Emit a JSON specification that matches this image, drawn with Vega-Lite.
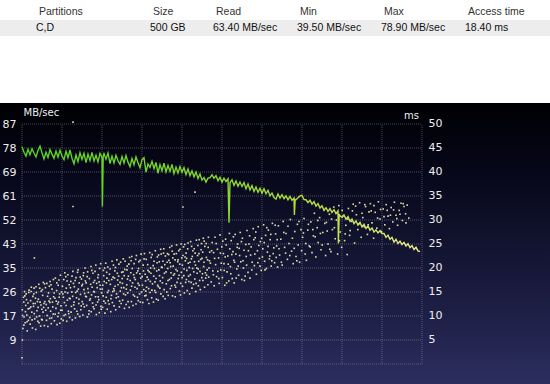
{
"$schema": "https://vega.github.io/schema/vega-lite/v6.json",
"padding": 0,
"spacing": 0,
"bounds": "flush",
"background": "#ffffff",
"config": {"view": {"stroke": null}, "axis": {"labelFont": "DejaVu Sans", "titleFont": "DejaVu Sans"}},
"datasets": {
"table": [
{"col":0,"row":"h","text":"Partitions"},{"col":1,"row":"h","text":"Size"},{"col":2,"row":"h","text":"Read"},{"col":3,"row":"h","text":"Min"},{"col":4,"row":"h","text":"Max"},{"col":5,"row":"h","text":"Access time"},
{"col":0,"row":"v","text":"C,D"},{"col":1,"row":"v","text":"500 GB"},{"col":2,"row":"v","text":"63.40 MB/sec"},{"col":3,"row":"v","text":"39.50 MB/sec"},{"col":4,"row":"v","text":"78.90 MB/sec"},{"col":5,"row":"v","text":"18.40 ms"}
],
"gv": [{"p":0},{"p":10},{"p":20},{"p":30},{"p":40},{"p":50},{"p":60},{"p":70},{"p":80},{"p":90},{"p":100}],
"gh": [{"t":0},{"t":5},{"t":10},{"t":15},{"t":20},{"t":25},{"t":30},{"t":35},{"t":40},{"t":45},{"t":50}],
"read": [
{"p":0,"mb":78.6},{"p":0.5,"mb":76.6},{"p":1,"mb":75.2},{"p":1.5,"mb":77.6},{"p":2,"mb":75.7},{"p":2.5,"mb":77.8},{"p":3,"mb":76.3},{"p":3.5,"mb":74.9},{"p":4,"mb":77.2},{"p":4.5,"mb":78.8},
{"p":5,"mb":76.4},{"p":5.5,"mb":74.2},{"p":6,"mb":76.6},{"p":6.5,"mb":74.7},{"p":7,"mb":77.5},{"p":7.5,"mb":75.9},{"p":8,"mb":74.4},{"p":8.5,"mb":77.0},{"p":9,"mb":74.8},{"p":9.5,"mb":77.3},
{"p":10,"mb":75.2},{"p":10.5,"mb":73.9},{"p":11,"mb":76.9},{"p":11.5,"mb":74.6},{"p":12,"mb":77.4},{"p":12.5,"mb":74.4},{"p":13,"mb":72.4},{"p":13.5,"mb":75.6},{"p":14,"mb":73.2},{"p":14.5,"mb":76.4},
{"p":15,"mb":74.0},{"p":15.5,"mb":76.2},{"p":16,"mb":72.8},{"p":16.5,"mb":75.9},{"p":17,"mb":73.6},{"p":17.5,"mb":76.5},{"p":18,"mb":73.4},{"p":18.5,"mb":75.5},{"p":19,"mb":73.1},{"p":19.5,"mb":76.2},
{"p":20,"mb":74.6},{"p":20.1,"mb":57.0},{"p":20.3,"mb":75.2},{"p":20.5,"mb":76.1},{"p":21,"mb":74.1},{"p":21.5,"mb":76.3},{"p":22,"mb":72.5},{"p":22.5,"mb":75.1},{"p":23,"mb":72.7},{"p":23.5,"mb":75.5},{"p":24,"mb":73.5},{"p":24.5,"mb":72.2},
{"p":25,"mb":75.0},{"p":25.5,"mb":72.7},{"p":26,"mb":75.4},{"p":26.5,"mb":73.0},{"p":27,"mb":71.4},{"p":27.5,"mb":74.3},{"p":28,"mb":72.1},{"p":28.5,"mb":74.9},{"p":29,"mb":72.8},{"p":29.5,"mb":71.0},
{"p":30,"mb":73.9},{"p":30.5,"mb":74.6},{"p":31,"mb":69.4},{"p":31.5,"mb":72.3},{"p":32,"mb":71.1},{"p":32.5,"mb":73.3},{"p":33,"mb":70.7},{"p":33.5,"mb":72.9},{"p":34,"mb":69.0},{"p":34.5,"mb":72.1},
{"p":35,"mb":69.9},{"p":35.5,"mb":72.6},{"p":36,"mb":69.5},{"p":36.5,"mb":71.8},{"p":37,"mb":69.7},{"p":37.5,"mb":72.2},{"p":38,"mb":68.9},{"p":38.5,"mb":71.2},{"p":39,"mb":69.1},{"p":39.5,"mb":71.4},
{"p":40,"mb":69.3},{"p":40.5,"mb":71.0},{"p":41,"mb":68.5},{"p":41.5,"mb":70.5},{"p":42,"mb":68.1},{"p":42.5,"mb":69.8},{"p":43,"mb":67.7},{"p":43.5,"mb":69.4},{"p":44,"mb":67.1},{"p":44.5,"mb":68.7},
{"p":45,"mb":66.5},{"p":45.5,"mb":67.4},{"p":46,"mb":65.8},{"p":46.5,"mb":67.2},{"p":47,"mb":67.4},{"p":47.5,"mb":68.4},{"p":48,"mb":67.2},{"p":48.5,"mb":68.1},{"p":49,"mb":66.3},{"p":49.5,"mb":67.5},
{"p":50,"mb":65.8},{"p":50.5,"mb":67.2},{"p":51,"mb":66.0},{"p":51.5,"mb":67.0},{"p":51.75,"mb":51.1},{"p":52,"mb":65.6},{"p":52.5,"mb":66.6},{"p":53,"mb":64.6},{"p":53.5,"mb":66.2},{"p":54,"mb":64.3},{"p":54.5,"mb":65.8},
{"p":55,"mb":64.2},{"p":55.5,"mb":65.6},{"p":56,"mb":63.4},{"p":56.5,"mb":65.1},{"p":57,"mb":63.0},{"p":57.5,"mb":64.5},{"p":58,"mb":62.4},{"p":58.5,"mb":64.0},{"p":59,"mb":62.1},{"p":59.5,"mb":63.6},
{"p":60,"mb":61.8},{"p":60.5,"mb":63.4},{"p":61,"mb":61.6},{"p":61.5,"mb":62.8},{"p":62,"mb":60.8},{"p":62.5,"mb":61.8},{"p":63,"mb":60.2},{"p":63.5,"mb":59.6},{"p":64,"mb":61.5},{"p":64.5,"mb":60.0},
{"p":65,"mb":61.2},{"p":65.5,"mb":59.8},{"p":66,"mb":60.8},{"p":66.5,"mb":59.4},{"p":67,"mb":60.6},{"p":67.5,"mb":59.2},{"p":68,"mb":60.0},{"p":68.1,"mb":53.9},{"p":68.3,"mb":59.5},{"p":68.5,"mb":59.4},{"p":69,"mb":60.1},{"p":69.5,"mb":60.8},
{"p":70,"mb":61.0},{"p":70.5,"mb":59.5},{"p":71,"mb":59.4},{"p":71.5,"mb":58.4},{"p":72,"mb":59.2},{"p":72.5,"mb":57.8},{"p":73,"mb":58.7},{"p":73.5,"mb":57.1},{"p":74,"mb":58.0},{"p":74.5,"mb":56.4},
{"p":75,"mb":57.2},{"p":75.5,"mb":55.6},{"p":76,"mb":56.5},{"p":76.5,"mb":55.2},{"p":77,"mb":56.2},{"p":77.5,"mb":54.8},{"p":78,"mb":55.8},{"p":78.5,"mb":54.4},{"p":79,"mb":55.4},{"p":79.1,"mb":43.6},{"p":79.3,"mb":54.2},{"p":79.5,"mb":53.6},
{"p":80,"mb":53.0},{"p":80.5,"mb":53.9},{"p":81,"mb":52.4},{"p":81.5,"mb":53.3},{"p":82,"mb":51.6},{"p":82.5,"mb":52.4},{"p":83,"mb":50.8},{"p":83.5,"mb":51.8},{"p":84,"mb":50.2},{"p":84.5,"mb":51.2},
{"p":85,"mb":49.6},{"p":85.5,"mb":50.5},{"p":86,"mb":49.0},{"p":86.5,"mb":49.9},{"p":87,"mb":48.4},{"p":87.5,"mb":49.2},{"p":88,"mb":47.7},{"p":88.5,"mb":48.5},{"p":89,"mb":47.4},{"p":89.5,"mb":48.2},
{"p":90,"mb":47.2},{"p":90.5,"mb":47.2},{"p":91,"mb":45.8},{"p":91.5,"mb":46.6},{"p":92,"mb":45.1},{"p":92.5,"mb":45.8},{"p":93,"mb":44.1},{"p":93.5,"mb":45.1},{"p":94,"mb":43.6},{"p":94.5,"mb":44.4},
{"p":95,"mb":43.2},{"p":95.5,"mb":44.0},{"p":96,"mb":42.7},{"p":96.5,"mb":43.5},{"p":97,"mb":42.1},{"p":97.5,"mb":42.8},{"p":98,"mb":41.4},{"p":98.5,"mb":42.2},{"p":99,"mb":40.9},{"p":99.5,"mb":40.7}
],
"access": [
{"p":0.0,"t":1.3},{"p":0.1,"t":5.0},{"p":3.1,"t":22.1},{"p":12.75,"t":50.4},{"p":12.75,"t":32.8},{"p":40.25,"t":32.7},{"p":43.25,"t":35.8},
{"p":0.08,"t":11.3},{"p":0.22,"t":7.4},{"p":0.37,"t":13.9},{"p":0.51,"t":9.8},{"p":0.64,"t":15.1},{"p":0.79,"t":8.6},{"p":0.93,"t":12.2},
{"p":1.03,"t":14.6},{"p":1.19,"t":10.2},{"p":1.31,"t":6.9},{"p":1.48,"t":12.7},{"p":1.6,"t":9.1},{"p":1.77,"t":15.4},{"p":1.9,"t":11.6},
{"p":2.05,"t":8.3},{"p":2.14,"t":13.2},{"p":2.33,"t":16.0},{"p":2.45,"t":10.8},{"p":2.61,"t":7.5},{"p":2.72,"t":14.1},{"p":2.88,"t":12.0},
{"p":3.02,"t":15.8},{"p":3.18,"t":9.4},{"p":3.29,"t":12.6},{"p":3.44,"t":7.2},{"p":3.58,"t":14.9},{"p":3.73,"t":11.1},{"p":3.95,"t":8.9},
{"p":4.09,"t":13.5},{"p":4.2,"t":16.6},{"p":4.36,"t":10.0},{"p":4.52,"t":12.9},{"p":4.66,"t":7.9},{"p":4.81,"t":15.2},{"p":4.97,"t":11.4},
{"p":5.04,"t":9.2},{"p":5.17,"t":14.3},{"p":5.34,"t":17.0},{"p":5.41,"t":11.8},{"p":5.59,"t":8.0},{"p":5.7,"t":13.0},{"p":5.86,"t":15.9},
{"p":6.06,"t":12.4},{"p":6.21,"t":16.8},{"p":6.3,"t":10.1},{"p":6.47,"t":7.8},{"p":6.63,"t":14.8},{"p":6.75,"t":13.1},{"p":6.92,"t":9.5},
{"p":7.01,"t":17.2},{"p":7.15,"t":11.0},{"p":7.32,"t":8.4},{"p":7.5,"t":15.6},{"p":7.62,"t":12.9},{"p":7.8,"t":10.4},{"p":7.91,"t":14.0},
{"p":8.1,"t":9.0},{"p":8.23,"t":13.7},{"p":8.35,"t":17.9},{"p":8.49,"t":11.6},{"p":8.65,"t":15.3},{"p":8.76,"t":8.2},{"p":8.9,"t":12.5},
{"p":9.05,"t":16.4},{"p":9.16,"t":10.6},{"p":9.31,"t":13.9},{"p":9.46,"t":8.5},{"p":9.6,"t":18.5},{"p":9.74,"t":12.1},{"p":9.88,"t":15.0},
{"p":10.02,"t":11.2},{"p":10.2,"t":14.6},{"p":10.29,"t":9.1},{"p":10.43,"t":17.6},{"p":10.61,"t":12.8},{"p":10.7,"t":19.0},{"p":10.86,"t":10.3},
{"p":11.07,"t":15.8},{"p":11.18,"t":8.9},{"p":11.34,"t":13.3},{"p":11.47,"t":18.6},{"p":11.6,"t":11.0},{"p":11.79,"t":16.5},{"p":11.9,"t":9.7},
{"p":12.04,"t":13.6},{"p":12.2,"t":17.2},{"p":12.27,"t":10.8},{"p":12.45,"t":15.0},{"p":12.58,"t":9.2},{"p":12.73,"t":19.3},{"p":12.92,"t":12.3},
{"p":13.09,"t":16.1},{"p":13.14,"t":11.5},{"p":13.36,"t":9.6},{"p":13.5,"t":18.0},{"p":13.63,"t":13.8},{"p":13.8,"t":15.2},{"p":13.94,"t":10.4},
{"p":14.01,"t":19.6},{"p":14.19,"t":12.6},{"p":14.3,"t":16.9},{"p":14.44,"t":9.9},{"p":14.62,"t":14.5},{"p":14.71,"t":11.3},{"p":14.87,"t":17.7},
{"p":15.06,"t":13.0},{"p":15.21,"t":10.2},{"p":15.33,"t":18.4},{"p":15.49,"t":15.5},{"p":15.57,"t":11.9},{"p":15.76,"t":20.0},{"p":15.9,"t":14.1},
{"p":16.03,"t":16.9},{"p":16.16,"t":12.2},{"p":16.35,"t":9.8},{"p":16.41,"t":19.2},{"p":16.6,"t":14.9},{"p":16.77,"t":11.1},{"p":16.85,"t":17.8},
{"p":17.08,"t":13.6},{"p":17.24,"t":20.3},{"p":17.3,"t":10.9},{"p":17.52,"t":16.0},{"p":17.64,"t":12.7},{"p":17.73,"t":18.9},{"p":17.95,"t":15.1},
{"p":18.02,"t":11.5},{"p":18.17,"t":17.4},{"p":18.38,"t":14.0},{"p":18.45,"t":20.6},{"p":18.59,"t":10.3},{"p":18.8,"t":15.9},{"p":18.91,"t":12.9},
{"p":19.1,"t":18.6},{"p":19.2,"t":13.4},{"p":19.33,"t":10.7},{"p":19.5,"t":16.4},{"p":19.66,"t":20.9},{"p":19.72,"t":12.0},{"p":19.89,"t":14.8},
{"p":20.07,"t":15.6},{"p":20.15,"t":11.8},{"p":20.36,"t":19.5},{"p":20.48,"t":13.1},{"p":20.55,"t":17.2},{"p":20.74,"t":10.6},{"p":20.93,"t":21.0},
{"p":21.04,"t":13.9},{"p":21.22,"t":17.9},{"p":21.31,"t":11.4},{"p":21.46,"t":20.2},{"p":21.63,"t":15.3},{"p":21.78,"t":12.5},{"p":21.86,"t":18.7},
{"p":22.09,"t":16.6},{"p":22.18,"t":10.9},{"p":22.37,"t":14.3},{"p":22.52,"t":21.4},{"p":22.6,"t":12.8},{"p":22.77,"t":18.1},{"p":22.94,"t":15.7},
{"p":23.01,"t":12.1},{"p":23.2,"t":19.4},{"p":23.28,"t":16.2},{"p":23.43,"t":11.3},{"p":23.65,"t":14.6},{"p":23.71,"t":21.7},{"p":23.9,"t":17.5},
{"p":24.08,"t":14.0},{"p":24.23,"t":20.8},{"p":24.34,"t":11.9},{"p":24.51,"t":17.0},{"p":24.57,"t":15.2},{"p":24.79,"t":12.6},{"p":24.92,"t":19.1},
{"p":25.05,"t":17.8},{"p":25.16,"t":13.3},{"p":25.32,"t":21.9},{"p":25.47,"t":15.9},{"p":25.61,"t":11.6},{"p":25.7,"t":19.7},{"p":25.87,"t":14.4},
{"p":26.03,"t":12.4},{"p":26.19,"t":16.5},{"p":26.3,"t":20.4},{"p":26.44,"t":14.8},{"p":26.6,"t":18.3},{"p":26.8,"t":11.8},{"p":26.9,"t":22.2},
{"p":27.1,"t":15.4},{"p":27.21,"t":19.0},{"p":27.35,"t":13.0},{"p":27.46,"t":22.4},{"p":27.64,"t":16.9},{"p":27.75,"t":12.2},{"p":27.91,"t":18.6},
{"p":28.02,"t":20.9},{"p":28.16,"t":14.1},{"p":28.33,"t":17.6},{"p":28.5,"t":12.5},{"p":28.61,"t":22.6},{"p":28.78,"t":15.7},{"p":28.95,"t":19.4},
{"p":29.07,"t":13.2},{"p":29.2,"t":21.3},{"p":29.31,"t":16.4},{"p":29.48,"t":18.8},{"p":29.59,"t":12.9},{"p":29.76,"t":22.9},{"p":29.88,"t":15.0},
{"p":30.04,"t":18.2},{"p":30.21,"t":12.8},{"p":30.29,"t":20.6},{"p":30.45,"t":15.5},{"p":30.62,"t":23.0},{"p":30.7,"t":14.2},{"p":30.89,"t":17.3},
{"p":31.06,"t":21.8},{"p":31.15,"t":16.0},{"p":31.37,"t":13.4},{"p":31.49,"t":19.5},{"p":31.58,"t":17.6},{"p":31.74,"t":12.6},{"p":31.93,"t":23.2},
{"p":32.01,"t":14.9},{"p":32.22,"t":18.9},{"p":32.3,"t":22.2},{"p":32.42,"t":13.8},{"p":32.63,"t":16.7},{"p":32.79,"t":20.5},{"p":32.86,"t":12.9},
{"p":33.09,"t":19.9},{"p":33.18,"t":15.3},{"p":33.33,"t":23.6},{"p":33.52,"t":17.8},{"p":33.6,"t":13.5},{"p":33.77,"t":21.1},{"p":33.92,"t":16.4},
{"p":34.05,"t":13.3},{"p":34.14,"t":22.7},{"p":34.38,"t":18.4},{"p":34.47,"t":15.8},{"p":34.66,"t":23.9},{"p":34.72,"t":14.6},{"p":34.89,"t":20.2},
{"p":35.1,"t":16.9},{"p":35.23,"t":21.4},{"p":35.29,"t":14.1},{"p":35.44,"t":24.0},{"p":35.61,"t":18.9},{"p":35.79,"t":13.6},{"p":35.85,"t":22.5},
{"p":36.02,"t":19.2},{"p":36.2,"t":15.0},{"p":36.36,"t":23.0},{"p":36.5,"t":17.4},{"p":36.56,"t":14.3},{"p":36.73,"t":21.6},{"p":36.94,"t":24.3},
{"p":37.08,"t":15.7},{"p":37.17,"t":20.3},{"p":37.32,"t":17.9},{"p":37.45,"t":24.6},{"p":37.63,"t":14.2},{"p":37.7,"t":22.1},{"p":37.87,"t":18.5},
{"p":38.03,"t":22.9},{"p":38.22,"t":16.4},{"p":38.31,"t":14.0},{"p":38.48,"t":19.7},{"p":38.64,"t":24.8},{"p":38.75,"t":17.0},{"p":38.93,"t":21.3},
{"p":39.06,"t":17.8},{"p":39.19,"t":23.6},{"p":39.35,"t":15.2},{"p":39.43,"t":20.8},{"p":39.62,"t":14.4},{"p":39.78,"t":25.0},{"p":39.84,"t":19.1},
{"p":40.09,"t":20.6},{"p":40.13,"t":16.2},{"p":40.38,"t":24.4},{"p":40.46,"t":18.4},{"p":40.59,"t":14.8},{"p":40.76,"t":22.3},{"p":40.91,"t":17.0},
{"p":41.02,"t":23.1},{"p":41.21,"t":19.5},{"p":41.3,"t":15.3},{"p":41.51,"t":25.2},{"p":41.57,"t":21.0},{"p":41.72,"t":17.2},{"p":41.9,"t":14.6},
{"p":42.07,"t":18.6},{"p":42.16,"t":25.5},{"p":42.34,"t":21.9},{"p":42.49,"t":15.8},{"p":42.65,"t":19.9},{"p":42.71,"t":23.6},{"p":42.88,"t":16.6},
{"p":43.04,"t":24.0},{"p":43.2,"t":17.7},{"p":43.37,"t":20.6},{"p":43.44,"t":15.1},{"p":43.61,"t":25.8},{"p":43.79,"t":18.9},{"p":43.9,"t":22.6},
{"p":44.1,"t":16.3},{"p":44.18,"t":21.4},{"p":44.3,"t":25.9},{"p":44.5,"t":19.3},{"p":44.58,"t":15.5},{"p":44.77,"t":23.8},{"p":44.95,"t":18.0},
{"p":45.01,"t":22.0},{"p":45.23,"t":17.4},{"p":45.32,"t":26.2},{"p":45.41,"t":20.3},{"p":45.64,"t":16.0},{"p":45.7,"t":24.5},{"p":45.86,"t":19.0},
{"p":46.05,"t":25.1},{"p":46.15,"t":18.5},{"p":46.39,"t":21.7},{"p":46.48,"t":16.5},{"p":46.6,"t":26.4},{"p":46.74,"t":20.0},{"p":46.92,"t":23.3},
{"p":47.1,"t":21.0},{"p":47.3,"t":17.1},{"p":47.55,"t":25.3},{"p":47.7,"t":19.4},{"p":47.9,"t":23.2},
{"p":48.05,"t":16.3},{"p":48.25,"t":26.4},{"p":48.4,"t":20.7},{"p":48.65,"t":18.2},{"p":48.85,"t":23.9},
{"p":49.15,"t":22.1},{"p":49.3,"t":16.8},{"p":49.5,"t":26.9},{"p":49.7,"t":19.6},{"p":49.95,"t":24.4},
{"p":50.1,"t":18.0},{"p":50.35,"t":23.0},{"p":50.5,"t":20.9},{"p":50.7,"t":16.4},{"p":50.9,"t":26.0},
{"p":51.05,"t":24.8},{"p":51.25,"t":19.2},{"p":51.45,"t":22.5},{"p":51.7,"t":17.3},{"p":51.85,"t":27.2},
{"p":52.1,"t":20.3},{"p":52.3,"t":25.7},{"p":52.55,"t":17.8},{"p":52.75,"t":23.4},{"p":52.95,"t":21.6},
{"p":53.05,"t":16.9},{"p":53.3,"t":27.0},{"p":53.45,"t":22.9},{"p":53.7,"t":19.8},{"p":53.9,"t":25.0},
{"p":54.15,"t":18.5},{"p":54.3,"t":24.1},{"p":54.55,"t":27.4},{"p":54.7,"t":21.3},{"p":54.95,"t":17.6},
{"p":55.1,"t":26.2},{"p":55.35,"t":20.0},{"p":55.5,"t":23.7},{"p":55.8,"t":18.3},
{"p":56.05,"t":22.4},{"p":56.25,"t":27.8},{"p":56.5,"t":19.1},{"p":56.75,"t":25.0},
{"p":57.0,"t":17.9},{"p":57.3,"t":24.4},{"p":57.55,"t":21.2},{"p":57.8,"t":28.2},
{"p":58.1,"t":20.5},{"p":58.3,"t":26.3},{"p":58.6,"t":18.7},{"p":58.85,"t":23.6},
{"p":59.05,"t":28.6},{"p":59.35,"t":22.0},{"p":59.6,"t":25.5},{"p":59.8,"t":19.5},
{"p":60.2,"t":24.0},{"p":60.4,"t":29.0},{"p":60.65,"t":21.4},{"p":60.9,"t":26.8},
{"p":61.1,"t":19.9},{"p":61.35,"t":23.3},{"p":61.6,"t":27.9},{"p":61.85,"t":21.9},
{"p":62.05,"t":25.9},{"p":62.3,"t":20.4},{"p":62.6,"t":29.3},{"p":62.8,"t":23.0},
{"p":63.15,"t":21.1},{"p":63.4,"t":27.1},{"p":63.65,"t":24.6},{"p":63.9,"t":20.2},
{"p":64.1,"t":28.8},{"p":64.4,"t":22.7},{"p":64.7,"t":26.0},
{"p":65.05,"t":20.6},{"p":65.3,"t":29.7},{"p":65.65,"t":24.3},
{"p":66.0,"t":27.2},{"p":66.35,"t":21.8},{"p":66.75,"t":25.1},
{"p":67.1,"t":30.1},{"p":67.4,"t":23.5},{"p":67.8,"t":20.9},
{"p":68.2,"t":27.6},{"p":68.5,"t":22.4},{"p":68.85,"t":29.1},
{"p":69.05,"t":24.8},{"p":69.4,"t":21.2},{"p":69.75,"t":28.0},
{"p":70.15,"t":26.4},{"p":70.5,"t":30.3},{"p":70.8,"t":22.9},
{"p":71.1,"t":21.6},{"p":71.45,"t":27.9},{"p":71.8,"t":24.6},
{"p":72.2,"t":29.6},{"p":72.5,"t":23.2},{"p":72.85,"t":26.7},
{"p":73.1,"t":31.4},{"p":73.45,"t":22.3},{"p":73.8,"t":28.4},
{"p":74.05,"t":25.3},{"p":74.4,"t":30.5},{"p":74.75,"t":23.8},
{"p":75.2,"t":27.4},{"p":75.55,"t":32.1},{"p":75.9,"t":22.6},
{"p":76.1,"t":29.5},{"p":76.5,"t":25.0},{"p":76.85,"t":31.2},
{"p":77.25,"t":23.4},{"p":77.6,"t":28.0},{"p":77.95,"t":32.7},
{"p":78.3,"t":26.1},{"p":78.6,"t":30.0},{"p":78.9,"t":22.9},
{"p":79.2,"t":33.0},{"p":79.55,"t":27.5},{"p":79.9,"t":24.3},
{"p":80.3,"t":30.9},{"p":80.65,"t":25.7},{"p":80.95,"t":28.9},
{"p":81.3,"t":22.8},{"p":81.6,"t":32.4},{"p":81.9,"t":26.8},
{"p":82.35,"t":29.7},{"p":82.8,"t":33.3},
{"p":83.15,"t":25.2},{"p":83.6,"t":31.1},{"p":83.95,"t":28.0},
{"p":84.4,"t":33.6},{"p":84.8,"t":26.4},
{"p":85.2,"t":30.5},{"p":85.55,"t":28.6},{"p":85.9,"t":32.8},
{"p":86.35,"t":27.0},{"p":86.75,"t":31.7},
{"p":87.1,"t":33.4},{"p":87.5,"t":29.4},{"p":87.9,"t":26.2},
{"p":88.3,"t":31.6},{"p":88.7,"t":28.3},
{"p":89.1,"t":33.8},{"p":89.5,"t":30.2},{"p":89.85,"t":27.6},
{"p":90.3,"t":32.3},{"p":90.7,"t":29.0},
{"p":91.05,"t":33.2},{"p":91.5,"t":30.8},{"p":91.85,"t":28.2},
{"p":92.3,"t":32.6},{"p":92.7,"t":29.6},
{"p":93.1,"t":33.7},{"p":93.5,"t":31.0},{"p":93.9,"t":28.9},
{"p":94.3,"t":32.0},{"p":94.75,"t":33.5},
{"p":95.1,"t":29.9},{"p":95.5,"t":32.8},{"p":95.9,"t":31.3},
{"p":96.3,"t":33.1},{"p":96.7,"t":30.4},
{"p":0.15,"t":10.1},{"p":0.44,"t":12.9},{"p":0.47,"t":8.1},{"p":0.71,"t":14.2},{"p":0.86,"t":10.9},
{"p":1.12,"t":13.4},{"p":1.25,"t":8.8},{"p":1.55,"t":11.5},{"p":1.69,"t":14.9},{"p":1.97,"t":9.7},
{"p":2.2,"t":11.9},{"p":2.27,"t":15.1},{"p":2.52,"t":9.2},{"p":2.81,"t":12.6},{"p":2.95,"t":14.6},
{"p":3.08,"t":10.5},{"p":3.36,"t":13.7},{"p":3.5,"t":16.1},{"p":3.65,"t":9.8},{"p":3.86,"t":13.0},
{"p":4.03,"t":11.8},{"p":4.27,"t":8.6},{"p":4.43,"t":15.8},{"p":4.74,"t":12.3},{"p":4.9,"t":9.3},
{"p":5.1,"t":15.5},{"p":5.26,"t":10.8},{"p":5.5,"t":12.6},{"p":5.63,"t":16.7},{"p":5.93,"t":11.2},
{"p":6.12,"t":9.1},{"p":6.39,"t":14.1},{"p":6.55,"t":11.7},{"p":6.84,"t":16.2},{"p":6.99,"t":12.8},
{"p":7.08,"t":13.6},{"p":7.26,"t":16.5},{"p":7.41,"t":9.6},{"p":7.7,"t":11.9},{"p":7.85,"t":17.6},
{"p":8.04,"t":14.8},{"p":8.3,"t":10.4},{"p":8.56,"t":13.1},{"p":8.7,"t":16.9},{"p":8.97,"t":9.9},
{"p":9.1,"t":12.9},{"p":9.23,"t":17.5},{"p":9.4,"t":14.6},{"p":9.67,"t":11.2},{"p":9.82,"t":9.4},
{"p":10.11,"t":16.2},{"p":10.36,"t":13.9},{"p":10.5,"t":10.1},{"p":10.77,"t":15.0},{"p":10.94,"t":18.2},
{"p":11.02,"t":12.2},{"p":11.27,"t":17.3},{"p":11.41,"t":14.8},{"p":11.68,"t":10.5},{"p":11.85,"t":13.7},
{"p":12.11,"t":15.9},{"p":12.36,"t":12.0},{"p":12.51,"t":18.3},{"p":12.66,"t":14.1},{"p":12.86,"t":16.8},
{"p":13.01,"t":12.9},{"p":13.28,"t":17.4},{"p":13.43,"t":14.9},{"p":13.72,"t":11.0},{"p":13.88,"t":19.1},
{"p":14.09,"t":15.6},{"p":14.25,"t":13.5},{"p":14.55,"t":18.1},{"p":14.8,"t":12.1},{"p":14.95,"t":16.3},
{"p":15.14,"t":16.6},{"p":15.28,"t":12.5},{"p":15.4,"t":19.0},{"p":15.66,"t":14.7},{"p":15.84,"t":17.3},
{"p":16.09,"t":14.0},{"p":16.29,"t":18.2},{"p":16.47,"t":15.7},{"p":16.7,"t":10.4},{"p":16.92,"t":13.3},
{"p":17.16,"t":16.6},{"p":17.38,"t":14.4},{"p":17.45,"t":19.5},{"p":17.81,"t":11.9},{"p":17.88,"t":17.0},
{"p":18.1,"t":15.0},{"p":18.26,"t":19.3},{"p":18.51,"t":12.3},{"p":18.67,"t":16.8},{"p":18.97,"t":18.0},
{"p":19.05,"t":14.0},{"p":19.27,"t":17.1},{"p":19.42,"t":19.9},{"p":19.59,"t":15.6},{"p":19.8,"t":11.4},
{"p":20.2,"t":16.4},{"p":20.29,"t":14.2},{"p":20.43,"t":18.4},{"p":20.66,"t":20.0},{"p":20.85,"t":12.7},
{"p":21.1,"t":16.9},{"p":21.17,"t":19.1},{"p":21.39,"t":14.9},{"p":21.55,"t":13.2},{"p":21.71,"t":17.4},
{"p":22.03,"t":19.8},{"p":22.25,"t":13.6},{"p":22.44,"t":17.6},{"p":22.69,"t":15.1},{"p":22.86,"t":20.6},
{"p":23.08,"t":15.3},{"p":23.13,"t":17.9},{"p":23.36,"t":20.1},{"p":23.56,"t":13.8},{"p":23.83,"t":18.9},
{"p":24.01,"t":16.5},{"p":24.16,"t":18.3},{"p":24.4,"t":13.1},{"p":24.65,"t":21.2},{"p":24.86,"t":15.9},
{"p":25.1,"t":16.8},{"p":25.24,"t":19.2},{"p":25.4,"t":14.6},{"p":25.55,"t":18.4},{"p":25.78,"t":21.4},
{"p":26.08,"t":15.6},{"p":26.25,"t":19.6},{"p":26.37,"t":17.7},{"p":26.52,"t":13.0},{"p":26.72,"t":20.8},
{"p":27.04,"t":17.4},{"p":27.28,"t":21.5},{"p":27.41,"t":16.2},{"p":27.57,"t":19.9},{"p":27.84,"t":14.4},
{"p":28.09,"t":18.0},{"p":28.24,"t":16.0},{"p":28.41,"t":21.8},{"p":28.67,"t":19.0},{"p":28.86,"t":13.9},
{"p":29.02,"t":16.8},{"p":29.13,"t":19.9},{"p":29.39,"t":14.6},{"p":29.53,"t":21.6},{"p":29.69,"t":17.9},
{"p":30.1,"t":16.4},{"p":30.37,"t":19.4},{"p":30.52,"t":21.9},{"p":30.78,"t":18.7},{"p":30.95,"t":15.2},
{"p":31.01,"t":14.3},{"p":31.28,"t":18.1},{"p":31.42,"t":20.7},{"p":31.66,"t":15.7},{"p":31.81,"t":19.2},
{"p":32.09,"t":17.2},{"p":32.16,"t":20.0},{"p":32.48,"t":15.4},{"p":32.55,"t":22.8},{"p":32.93,"t":18.3},
{"p":33.02,"t":21.4},{"p":33.25,"t":17.1},{"p":33.41,"t":14.9},{"p":33.68,"t":19.4},{"p":33.84,"t":22.3},
{"p":34.1,"t":16.1},{"p":34.22,"t":19.6},{"p":34.31,"t":21.3},{"p":34.57,"t":17.3},{"p":34.8,"t":22.9},
{"p":35.03,"t":20.1},{"p":35.17,"t":18.0},{"p":35.37,"t":23.1},{"p":35.53,"t":15.5},{"p":35.7,"t":20.7},
{"p":36.08,"t":16.7},{"p":36.29,"t":21.2},{"p":36.43,"t":19.9},{"p":36.65,"t":22.8},{"p":36.85,"t":17.6},
{"p":37.03,"t":21.1},{"p":37.25,"t":19.0},{"p":37.39,"t":16.3},{"p":37.56,"t":23.5},{"p":37.79,"t":20.4},
{"p":38.12,"t":18.8},{"p":38.27,"t":21.7},{"p":38.4,"t":16.0},{"p":38.58,"t":23.0},{"p":38.82,"t":19.4},
{"p":39.01,"t":21.7},{"p":39.26,"t":18.5},{"p":39.51,"t":23.9},{"p":39.68,"t":16.8},{"p":39.93,"t":22.1},
{"p":40.04,"t":18.0},{"p":40.25,"t":22.6},{"p":40.52,"t":19.8},{"p":40.68,"t":24.9},{"p":40.84,"t":21.5},
{"p":41.1,"t":17.6},{"p":41.15,"t":22.0},{"p":41.42,"t":24.0},{"p":41.65,"t":18.3},{"p":41.81,"t":20.1},
{"p":42.01,"t":21.2},{"p":42.27,"t":17.0},{"p":42.41,"t":24.5},{"p":42.58,"t":22.4},{"p":42.95,"t":19.2},
{"p":43.12,"t":21.3},{"p":43.29,"t":23.1},{"p":43.52,"t":16.8},{"p":43.7,"t":20.0},{"p":43.97,"t":24.7},
{"p":44.05,"t":19.8},{"p":44.24,"t":23.0},{"p":44.41,"t":17.4},{"p":44.66,"t":21.8},{"p":44.88,"t":25.1},
{"p":45.12,"t":18.8},{"p":45.17,"t":23.3},{"p":45.49,"t":21.2},{"p":45.55,"t":25.6},{"p":45.93,"t":17.9},
{"p":46.1,"t":22.2},{"p":46.29,"t":19.6},{"p":46.55,"t":24.3},{"p":46.68,"t":18.1},{"p":46.87,"t":21.5},
{"p":47.4,"t":23.6},{"p":47.85,"t":18.6},{"p":48.15,"t":22.0},{"p":48.55,"t":25.1},{"p":48.95,"t":19.3},{"p":49.2,"t":17.8},{"p":49.6,"t":23.1},{"p":49.8,"t":21.0},{"p":50.2,"t":25.6},{"p":50.55,"t":19.5},
{"p":50.8,"t":22.3},{"p":51.15,"t":16.9},{"p":51.55,"t":20.8},{"p":51.95,"t":24.0},{"p":52.2,"t":18.8},{"p":52.45,"t":22.8},{"p":52.85,"t":26.5},{"p":53.15,"t":21.2},{"p":53.55,"t":17.9},{"p":53.8,"t":24.3},
{"p":54.05,"t":20.4},{"p":54.4,"t":22.6},{"p":54.85,"t":25.5},{"p":55.25,"t":21.5},{"p":55.6,"t":17.4},{"p":55.95,"t":24.9},{"p":56.15,"t":20.6},{"p":56.6,"t":23.6},{"p":56.9,"t":26.7},{"p":57.15,"t":22.7},
{"p":57.45,"t":19.6},{"p":57.95,"t":25.9},{"p":58.2,"t":22.9},{"p":58.45,"t":27.5},{"p":58.95,"t":21.1},{"p":59.2,"t":24.7},{"p":59.5,"t":20.4},{"p":59.9,"t":26.2},{"p":60.1,"t":22.3},{"p":60.55,"t":25.3},
{"p":60.75,"t":19.6},{"p":61.2,"t":28.4},{"p":61.5,"t":24.5},{"p":61.95,"t":22.5},{"p":62.2,"t":27.0},{"p":62.45,"t":21.5},{"p":62.95,"t":24.2},{"p":63.3,"t":28.9},{"p":63.55,"t":22.2},{"p":63.8,"t":25.9},
{"p":64.25,"t":24.0},{"p":64.85,"t":21.2},{"p":65.45,"t":27.4},{"p":65.9,"t":23.1},{"p":66.5,"t":28.7},{"p":66.95,"t":22.6},{"p":67.6,"t":26.2},{"p":68.05,"t":24.1},{"p":68.7,"t":21.5},{"p":69.25,"t":29.7},
{"p":69.9,"t":23.6},{"p":70.35,"t":27.3},{"p":70.95,"t":25.1},{"p":71.6,"t":29.1},{"p":72.05,"t":24.4},{"p":72.7,"t":28.0},{"p":73.3,"t":26.5},{"p":73.95,"t":29.9},{"p":74.6,"t":27.2},{"p":75.05,"t":24.8},
{"p":75.7,"t":29.3},{"p":76.3,"t":27.7},{"p":76.95,"t":23.9},{"p":77.4,"t":30.2},{"p":78.1,"t":28.4},{"p":78.75,"t":31.5},{"p":79.35,"t":25.7},{"p":80.05,"t":32.0},{"p":80.8,"t":27.1},{"p":81.45,"t":30.2},
{"p":82.05,"t":27.8},{"p":82.6,"t":31.9},{"p":83.4,"t":32.9},{"p":84.2,"t":29.2},{"p":85.0,"t":31.4},{"p":85.7,"t":33.2},{"p":86.55,"t":29.0},{"p":87.3,"t":31.9},{"p":88.0,"t":33.0},{"p":88.9,"t":30.4},
{"p":89.65,"t":32.2},{"p":90.5,"t":30.7},{"p":91.3,"t":32.0},{"p":92.1,"t":31.0},{"p":92.9,"t":32.1},{"p":93.7,"t":30.3},{"p":94.5,"t":31.2},{"p":95.3,"t":33.4},{"p":96.0,"t":29.4}
]
},
"vconcat": [
{
"width": 550,
"height": 103,
"view": {"fill": "#ffffff", "stroke": null},
"layer": [
{
"data": {"values": [{"row": "v"}]},
"mark": {"type": "rect", "color": "#ededed"},
"encoding": {
"y": {"field": "row", "type": "nominal", "scale": {"domain": ["h", "v"], "range": [4, 36], "paddingInner": 0, "paddingOuter": 0}, "axis": null}
}
},
{
"data": {"name": "table"},
"transform": [{"filter": "datum.row == 'h'"}],
"mark": {"type": "text", "align": "left", "baseline": "middle", "font": "Liberation Sans", "fontSize": 10.5, "color": "#333333", "dx": 3},
"encoding": {
"x": {"field": "col", "type": "quantitative", "scale": {"domain": [0, 1, 2, 3, 4, 5], "range": [36, 150, 213, 297, 381, 465], "zero": false, "nice": false}, "axis": null},
"y": {"field": "row", "type": "nominal", "scale": {"domain": ["h", "v"], "range": [4, 36], "paddingInner": 0, "paddingOuter": 0}, "axis": null},
"text": {"field": "text"}
}
},
{
"data": {"name": "table"},
"transform": [{"filter": "datum.row == 'v'"}],
"mark": {"type": "text", "align": "left", "baseline": "middle", "font": "Liberation Sans", "fontSize": 10.5, "color": "#111111"},
"encoding": {
"x": {"field": "col", "type": "quantitative", "scale": {"domain": [0, 1, 2, 3, 4, 5], "range": [36, 150, 213, 297, 381, 465], "zero": false, "nice": false}, "axis": null},
"y": {"field": "row", "type": "nominal", "scale": {"domain": ["h", "v"], "range": [4, 36], "paddingInner": 0, "paddingOuter": 0}, "axis": null},
"text": {"field": "text"}
}
}
]
},
{
"width": 550,
"height": 281,
"view": {"stroke": null, "fill": {"gradient": "linear", "x1": 0, "y1": 0, "x2": 0, "y2": 1, "stops": [{"offset": 0, "color": "#000003"}, {"offset": 0.25, "color": "#07071a"}, {"offset": 0.5, "color": "#12132f"}, {"offset": 0.75, "color": "#1e1f46"}, {"offset": 1, "color": "#2c2e5e"}]}},
"layer": [
{
"data": {"name": "gv"},
"mark": {"type": "rule", "color": "#a0a0c0", "opacity": 0.22, "strokeWidth": 2, "strokeDash": [1, 1]},
"encoding": {
"x": {"field": "p", "type": "quantitative", "scale": {"domain": [-5.5, 132], "nice": false, "zero": false}, "axis": null},
"y": {"datum": 0, "type": "quantitative", "scale": {"domain": [-4.1667, 54.375], "nice": false, "zero": false}, "axis": null},
"y2": {"datum": 50}
}
},
{
"data": {"name": "gh"},
"mark": {"type": "rule", "color": "#a0a0c0", "opacity": 0.22, "strokeWidth": 2, "strokeDash": [1, 1]},
"encoding": {
"x": {"datum": 0, "type": "quantitative", "scale": {"domain": [-5.5, 132], "nice": false, "zero": false}, "axis": null},
"x2": {"datum": 100},
"y": {"field": "t", "type": "quantitative", "scale": {"domain": [-4.1667, 54.375], "nice": false, "zero": false}, "axis": null}
}
},
{
"data": {"name": "access"},
"mark": {"type": "square", "size": 2.6, "filled": true, "color": "#f7f2b0", "opacity": 0.9, "strokeWidth": 0},
"encoding": {
"x": {"field": "p", "type": "quantitative", "scale": {"domain": [-5.5, 132], "nice": false, "zero": false}, "axis": null},
"y": {"field": "t", "type": "quantitative", "scale": {"domain": [-4.1667, 54.375], "nice": false, "zero": false},
"axis": {"orient": "right", "values": [5, 10, 15, 20, 25, 30, 35, 40, 45, 50], "offset": -124, "domain": false, "ticks": false, "tickSize": 0, "grid": false, "labelPadding": 2, "labelColor": "#eeeeee", "labelFontSize": 11, "labelOverlap": false, "labelFlush": false, "title": "ms", "titleAngle": 0, "titleX": -15, "titleY": 12, "titleAlign": "center", "titleBaseline": "middle", "titleColor": "#eeeeee", "titleFontSize": 10, "titleFontWeight": "normal"}}
}
},
{
"data": {"name": "read"},
"mark": {"type": "line", "strokeWidth": 1.4, "color": {"gradient": "linear", "x1": 0, "y1": 0, "x2": 1, "y2": 0, "stops": [{"offset": 0, "color": "#52d41e"}, {"offset": 0.45, "color": "#80d62a"}, {"offset": 0.72, "color": "#b4dc3c"}, {"offset": 1, "color": "#ecec90"}]}},
"encoding": {
"x": {"field": "p", "type": "quantitative", "scale": {"domain": [-5.5, 132], "nice": false, "zero": false},
"axis": {"orient": "bottom", "values": [0, 10, 20, 30, 40, 50, 60, 70, 80, 90, 100], "labelExpr": "datum.value == 100 ? '100%' : datum.label", "offset": -14, "domain": false, "ticks": false, "tickSize": 0, "grid": false, "labelPadding": 0, "labelBaseline": "middle", "labelColor": "#eeeeee", "labelFontSize": 11, "labelOverlap": false, "labelFlush": false, "title": null}},
"y": {"field": "mb", "type": "quantitative", "scale": {"domain": [-7.2333, 94.395], "nice": false, "zero": false},
"axis": {"orient": "left", "values": [8.68, 17.36, 26.04, 34.72, 43.4, 52.08, 60.76, 69.44, 78.12, 86.8], "format": ".0f", "offset": -18, "domain": false, "ticks": false, "tickSize": 0, "grid": false, "labelPadding": 2, "labelColor": "#eeeeee", "labelFontSize": 11, "labelOverlap": false, "labelFlush": false, "title": "MB/sec", "titleAngle": 0, "titleX": 5, "titleY": 9, "titleAlign": "left", "titleBaseline": "middle", "titleColor": "#eeeeee", "titleFontSize": 10, "titleFontWeight": "normal"}}
}
}
],
"resolve": {"scale": {"y": "independent"}, "axis": {"y": "independent"}}
}
]
}
